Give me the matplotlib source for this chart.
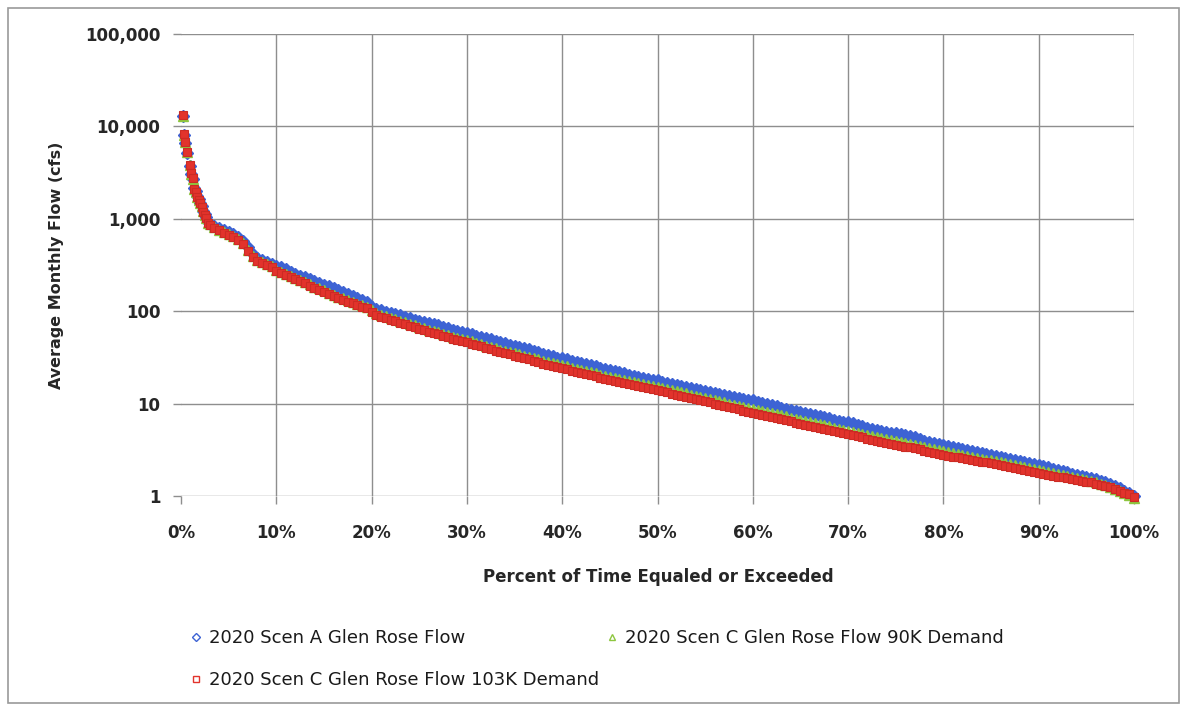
import matplotlib.pyplot as plt
from matplotlib.lines import Line2D
from matplotlib.patches import Rectangle
from matplotlib.ticker import FixedLocator, NullLocator

# ----------------------------------------------------------------------
# data (percent of time equaled or exceeded vs flow, cfs)
# ----------------------------------------------------------------------
# the few high-flow months at the left end
pct_high = [0.18, 0.35, 0.45, 0.66, 0.94, 1.02, 1.23, 1.40, 1.57, 1.71, 1.86,
            1.99, 2.17, 2.34, 2.52, 2.62, 2.86]
scen_a_high = [13000, 8000, 6600, 5200, 3750, 3050, 2700, 2150, 2000, 1750, 1620,
               1500, 1380, 1220, 1120, 1040, 930]
scen_c90_high = [13100, 8100, 6700, 5250, 3780, 3080, 2720, 2120, 1970, 1740, 1610,
                 1490, 1360, 1200, 1110, 1020, 910]
scen_c103_high = [13200, 8200, 6800, 5300, 3800, 3100, 2750, 2100, 1950, 1730, 1600,
                  1480, 1350, 1190, 1100, 1010, 900]

# the rest of the curve
pct_main = [3.0, 3.5, 4.0, 4.5, 5.0, 5.5, 6.0, 6.5, 7.0, 7.5, 8.0, 8.5, 9.0, 9.5,
            10.0, 10.5, 11.0, 11.5, 12.0, 12.5, 13.0, 13.5, 14.0, 14.5,
            15.0, 15.5, 16.0, 16.5, 17.0, 17.5, 18.0, 18.5, 19.0, 19.5,
            20.0, 20.5, 21.0, 21.5, 22.0, 22.5, 23.0, 23.5, 24.0, 24.5,
            25.0, 25.5, 26.0, 26.5, 27.0, 27.5, 28.0, 28.5, 29.0, 29.5,
            30.0, 30.5, 31.0, 31.5, 32.0, 32.5, 33.0, 33.5, 34.0, 34.5,
            35.0, 35.5, 36.0, 36.5, 37.0, 37.5, 38.0, 38.5, 39.0, 39.5,
            40.0, 40.5, 41.0, 41.5, 42.0, 42.5, 43.0, 43.5, 44.0, 44.5,
            45.0, 45.5, 46.0, 46.5, 47.0, 47.5, 48.0, 48.5, 49.0, 49.5,
            50.0, 50.5, 51.0, 51.5, 52.0, 52.5, 53.0, 53.5, 54.0, 54.5,
            55.0, 55.5, 56.0, 56.5, 57.0, 57.5, 58.0, 58.5, 59.0, 59.5,
            60.0, 60.5, 61.0, 61.5, 62.0, 62.5, 63.0, 63.5, 64.0, 64.5,
            65.0, 65.5, 66.0, 66.5, 67.0, 67.5, 68.0, 68.5, 69.0, 69.5,
            70.0, 70.5, 71.0, 71.5, 72.0, 72.5, 73.0, 73.5, 74.0, 74.5,
            75.0, 75.5, 76.0, 76.5, 77.0, 77.5, 78.0, 78.5, 79.0, 79.5,
            80.0, 80.5, 81.0, 81.5, 82.0, 82.5, 83.0, 83.5, 84.0, 84.5,
            85.0, 85.5, 86.0, 86.5, 87.0, 87.5, 88.0, 88.5, 89.0, 89.5,
            90.0, 90.5, 91.0, 91.5, 92.0, 92.5, 93.0, 93.5, 94.0, 94.5,
            95.0, 95.5, 96.0, 96.5, 97.0, 97.5, 98.0, 98.5, 99.0, 99.5, 100.0]

scen_a_main = [880, 830, 790, 760, 720, 680, 640, 580, 490, 420, 380, 360, 342, 325,
               308, 298, 284, 268, 255, 243, 232, 221, 210, 202, 193, 185, 177, 169, 160, 152, 145, 138, 131, 126,
               112, 106, 102, 99, 96, 93, 90, 87, 84, 81, 78, 76, 74, 72, 70, 67, 65, 63, 61, 59.5,
               58, 56, 54.5, 53, 51.5, 50, 48, 46.5, 45, 43.5, 42, 41, 40, 38.5, 37, 36, 34.5, 33.5, 32.5, 31.5,
               30.8, 30, 29, 28.3, 27.5, 26.8, 26, 25.2, 24.5, 23.8, 23.2, 22.5, 21.8, 21.2, 20.6, 20.0, 19.5, 19.0, 18.5, 18.2,
               17.8, 17.3, 16.8, 16.4, 16.0, 15.6, 15.2, 14.8, 14.4, 14.0, 13.6, 13.3, 13.0, 12.7, 12.4, 12.1, 11.8, 11.5, 11.2, 11.0,
               10.8, 10.5, 10.2, 9.9, 9.6, 9.3, 9.0, 8.8, 8.6, 8.4, 8.2, 8.0, 7.8, 7.5, 7.3, 7.1, 6.9, 6.7, 6.5, 6.35,
               6.3, 6.1, 5.9, 5.7, 5.5, 5.35, 5.2, 5.05, 4.95, 4.85, 4.75, 4.7, 4.6, 4.5, 4.35, 4.15, 3.95, 3.85, 3.75, 3.65,
               3.55, 3.45, 3.35, 3.27, 3.2, 3.12, 3.05, 2.98, 2.91, 2.84, 2.78, 2.71, 2.64, 2.58, 2.52, 2.46, 2.4, 2.33, 2.27, 2.21,
               2.16, 2.1, 2.04, 1.98, 1.92, 1.86, 1.8, 1.75, 1.7, 1.66, 1.61, 1.57, 1.52, 1.47, 1.42, 1.36, 1.29, 1.21, 1.14, 1.07, 1.0]

scen_c90_main = [870, 810, 760, 720, 685, 645, 605, 550, 460, 395, 358, 342, 326, 306,
                 277, 265, 252, 241, 230, 218, 206, 195, 184, 176, 168, 159, 151, 144, 138, 132, 126, 121, 116, 112,
                 102, 96, 91, 88, 85, 82, 79, 76, 73, 70.5, 68, 65.5, 63, 61, 59, 57, 55, 53, 51.5, 50,
                 48.5, 47, 45.5, 44, 42.5, 41, 39.5, 38.3, 37.2, 36.1, 35, 34, 33, 32, 31, 30, 29, 28.1, 27.3, 26.6,
                 26, 25.2, 24.5, 23.8, 23.1, 22.5, 21.9, 21.2, 20.6, 20.0, 19.5, 19.0, 18.5, 18.0, 17.5, 17.1, 16.7, 16.3, 15.9, 15.5,
                 15.2, 14.8, 14.4, 14.0, 13.6, 13.2, 12.9, 12.5, 12.2, 11.9, 11.5, 11.2, 10.9, 10.6, 10.3, 10.0, 9.7, 9.45, 9.2, 8.95,
                 8.7, 8.5, 8.3, 8.1, 7.9, 7.7, 7.45, 7.25, 7.0, 6.8, 6.6, 6.4, 6.25, 6.1, 5.95, 5.8, 5.65, 5.5, 5.35, 5.2,
                 5.05, 4.95, 4.82, 4.7, 4.58, 4.46, 4.34, 4.23, 4.12, 4.02, 3.92, 3.83, 3.74, 3.65, 3.56, 3.47, 3.38, 3.29, 3.2, 3.12,
                 3.04, 2.97, 2.9, 2.84, 2.78, 2.72, 2.66, 2.6, 2.54, 2.48, 2.43, 2.37, 2.31, 2.26, 2.2, 2.15, 2.1, 2.04, 1.99, 1.94,
                 1.9, 1.85, 1.8, 1.76, 1.72, 1.68, 1.64, 1.6, 1.56, 1.52, 1.48, 1.44, 1.4, 1.35, 1.3, 1.25, 1.2, 1.14, 1.08, 1.02, 0.96]

scen_c103_main = [860, 800, 750, 710, 675, 635, 595, 540, 450, 385, 350, 335, 320, 300,
                  270, 258, 246, 235, 224, 212, 200, 189, 178, 170, 162, 153, 146, 139, 133, 127, 122, 117, 112, 108,
                  98, 92, 87, 84, 81, 78, 75, 72, 69.5, 67, 64.5, 62, 60, 58, 56, 54, 52, 50, 48.5, 47,
                  46, 44.5, 43, 41.5, 40, 38.5, 37, 36, 35, 34, 33, 32, 31, 30, 29, 28, 27, 26.2, 25.5, 24.8,
                  24.2, 23.5, 22.8, 22.1, 21.5, 20.9, 20.3, 19.7, 19.1, 18.6, 18.1, 17.6, 17.1, 16.6, 16.2, 15.8, 15.4, 15.0, 14.6, 14.3,
                  14.0, 13.6, 13.2, 12.8, 12.4, 12.1, 11.8, 11.5, 11.2, 10.9, 10.6, 10.3, 10.0, 9.7, 9.4, 9.15, 8.9, 8.65, 8.4, 8.2,
                  8.0, 7.8, 7.6, 7.4, 7.2, 7.0, 6.8, 6.6, 6.4, 6.2, 6.05, 5.9, 5.75, 5.6, 5.45, 5.3, 5.15, 5.0, 4.88, 4.76,
                  4.65, 4.55, 4.42, 4.3, 4.18, 4.07, 3.96, 3.86, 3.76, 3.67, 3.58, 3.5, 3.42, 3.35, 3.27, 3.19, 3.1, 3.02, 2.94, 2.86,
                  2.78, 2.72, 2.66, 2.61, 2.56, 2.51, 2.46, 2.41, 2.36, 2.31, 2.27, 2.22, 2.17, 2.12, 2.07, 2.02, 1.97, 1.92, 1.87, 1.82,
                  1.78, 1.74, 1.7, 1.66, 1.62, 1.59, 1.56, 1.53, 1.5, 1.46, 1.43, 1.4, 1.36, 1.32, 1.28, 1.24, 1.19, 1.14, 1.09, 1.04, 0.98]

series_labels = ['2020 Scen A Glen Rose Flow',
                 '2020 Scen C Glen Rose Flow 90K Demand',
                 '2020 Scen C Glen Rose Flow 103K Demand']

y_ticks = [1, 10, 100, 1000, 10000, 100000]
y_tick_labels = ['1', '10', '100', '1,000', '10,000', '100,000']
x_ticks = [0, 10, 20, 30, 40, 50, 60, 70, 80, 90, 100]
x_tick_labels = ['0%', '10%', '20%', '30%', '40%', '50%', '60%', '70%', '80%', '90%', '100%']

# ----------------------------------------------------------------------
blue, green, red = '#3d63d4', '#8dc63f', '#e2332c'
grid_c = '#8e8e8e'
txt_c = '#262626'

fig = plt.figure(figsize=(11.81, 7.04), dpi=100)
ax = fig.add_axes([0.1533, 0.2955, 0.8069, 0.6562])

x_all = pct_high + pct_main
ax.plot(x_all, scen_a_high + scen_a_main, ls='none', marker='D', ms=6.5,
        mfc=blue, mec=blue, clip_on=False, zorder=3)
ax.plot(x_all, scen_c90_high + scen_c90_main, ls='none', marker='^', ms=7,
        mfc=green, mec=green, clip_on=False, zorder=4)
ax.plot(x_all, scen_c103_high + scen_c103_main, ls='none', marker='s', ms=5.8,
        mfc=red, mec='#cc2b24', mew=0.8, clip_on=False, zorder=5)

ax.set_yscale('log')
ax.set_ylim(1, 100000)
ax.set_xlim(0, 100)
ax.yaxis.set_major_locator(FixedLocator(y_ticks))
ax.yaxis.set_minor_locator(NullLocator())
ax.set_yticklabels(y_tick_labels)
ax.set_xticks(x_ticks)
ax.set_xticklabels(x_tick_labels)

for s in ax.spines.values():
    s.set_visible(False)
ax.grid(True, color=grid_c, lw=1.0)
ax.set_axisbelow(True)
ax.xaxis.get_gridlines()[0].set_visible(False)   # no line at 0%
ax.tick_params(axis='both', direction='out', length=6, color=grid_c, width=1.0,
               labelsize=12, labelcolor=txt_c)
ax.tick_params(axis='y', pad=9)
ax.tick_params(axis='x', pad=14)
for lab in ax.get_xticklabels() + ax.get_yticklabels():
    lab.set_fontweight('bold')

fig.text(658 / 1181, 1 - 577 / 704, 'Percent of Time Equaled or Exceeded',
         ha='center', va='center', fontsize=12, fontweight='bold', color=txt_c)
fig.text(57 / 1181, 1 - 265 / 704, 'Average Monthly Flow (cfs)', rotation=90,
         ha='center', va='center', fontsize=11.5, fontweight='bold', color=txt_c)

# legend below the plot, laid out like the original
h_a = Line2D([], [], ls='none', marker='D', ms=4, mfc='white', mec=blue, mew=1)
h_c90 = Line2D([], [], ls='none', marker='^', ms=4.5, mfc='white', mec=green, mew=1)
h_c103 = Line2D([], [], ls='none', marker='s', ms=4, mfc='white', mec=red, mew=1)
fig.legend([h_a, h_c103], [series_labels[0], series_labels[2]],
           loc='upper left', bbox_to_anchor=(180 / 1181, 1 - 620 / 704),
           frameon=False, fontsize=13, handlelength=0.8, handletextpad=0.3,
           labelspacing=1.35, borderpad=0)
fig.legend([h_c90], [series_labels[1]],
           loc='upper left', bbox_to_anchor=(596 / 1181, 1 - 620 / 704),
           frameon=False, fontsize=13, handlelength=0.8, handletextpad=0.3,
           borderpad=0)
for lg in fig.legends:
    for t in lg.get_texts():
        t.set_color('#1a1a1a')

# thin frame round the whole chart
fig.patches.append(Rectangle((8 / 1181, 0.002), 1 - 10 / 1181, 1 - 9 / 704, transform=fig.transFigure,
                             fill=False, ec='#9a9a9a', lw=1.2))

fig.savefig('out.png', dpi=100)
